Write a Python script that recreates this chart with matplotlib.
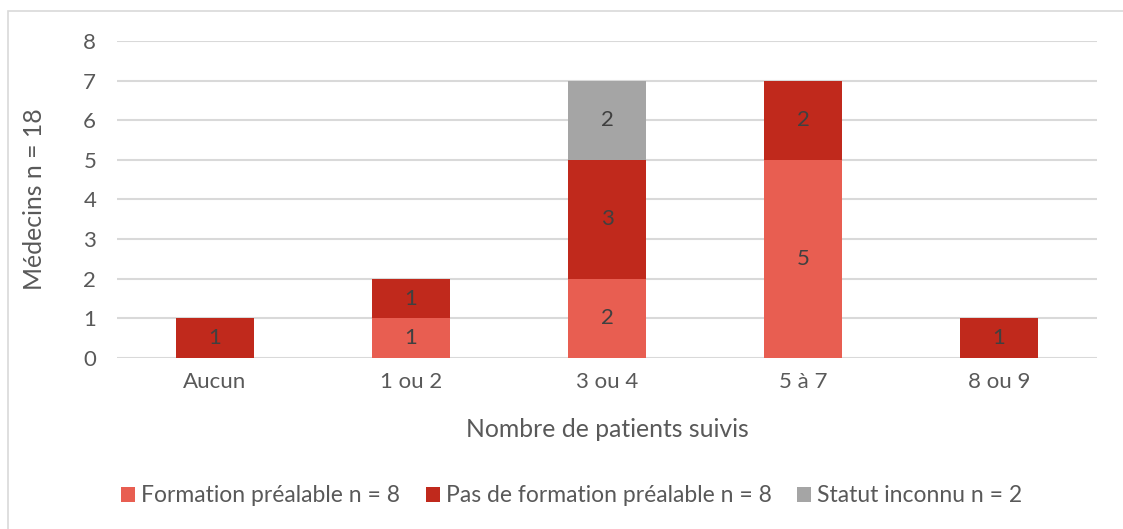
import numpy as np
import matplotlib.pyplot as plt
from matplotlib.patches import Rectangle

plt.rcParams['font.family'] = ['Lato', 'DejaVu Sans']

# data
categories = ['Aucun', '1 ou 2', '3 ou 4', '5 à 7', '8 ou 9']
formation = [0, 1, 2, 5, 0]
pas_formation = [1, 1, 3, 2, 1]
inconnu = [0, 0, 2, 0, 0]
series_names = ['Formation préalable n = 8',
                'Pas de formation préalable n = 8',
                'Statut inconnu n = 2']
colors = ['#E85E51', '#C0291C', '#A5A5A5']

fig = plt.figure(figsize=(11.23, 5.29), dpi=100)
ax = fig.add_axes([0.1042, 0.3233, 0.8727, 0.5992])

# chart border
fig.patches.append(Rectangle((8 / 1123, -0.05), 1.2, 0.05 + 518 / 529,
                             transform=fig.transFigure, fill=False,
                             edgecolor='#D9D9D9', lw=1.2))

x = np.arange(len(categories))
bottom = np.zeros(len(categories))
for vals, name, c in zip([formation, pas_formation, inconnu], series_names, colors):
    bars = ax.bar(x, vals, width=0.4, bottom=bottom, color=c, label=name, zorder=3)
    labels = [str(v) if v else '' for v in vals]
    ax.bar_label(bars, labels=labels, label_type='center', color='#404040',
                 fontsize=16)
    bottom += np.array(vals)

ax.set_xlim(-0.5, len(categories) - 0.5)
ax.set_ylim(0, 8)
ax.set_yticks(range(0, 9))
ax.set_xticks(x)
ax.set_xticklabels(categories)
ax.grid(axis='y', color='#D9D9D9', lw=1.5, zorder=0)
for s in ax.spines.values():
    s.set_visible(False)
ax.tick_params(axis='both', length=0, labelsize=16, labelcolor='#595959')
ax.tick_params(axis='x', pad=10)
ax.tick_params(axis='y', pad=15)

ax.set_xlabel('Nombre de patients suivis', fontsize=17.8, color='#595959')
ax.set_ylabel('Médecins n = 18', fontsize=17.8, color='#595959')
ax.xaxis.set_label_coords(0.5, -0.227)
ax.yaxis.set_label_coords(-0.0837, 0.5)
ax.xaxis.label.set_va('center')
ax.yaxis.label.set_va('center')

fig.legend(loc='center', bbox_to_anchor=(0.509, 0.0624), ncol=3, frameon=False,
           fontsize=16.5, labelcolor='#595959', handlelength=0.62, handleheight=0.62,
           handletextpad=0.26, columnspacing=1.1)

fig.savefig('out.png', dpi=100)
